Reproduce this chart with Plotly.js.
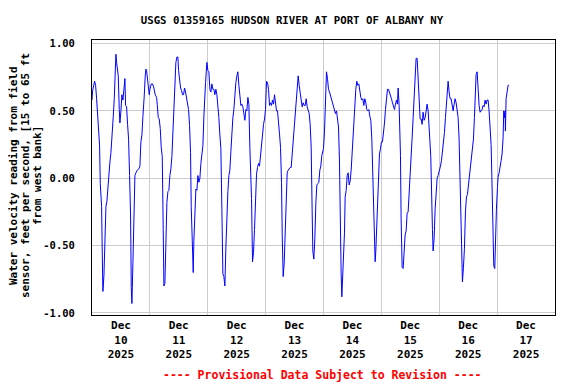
<!DOCTYPE html>
<html>
<head>
<meta charset="utf-8">
<script src="https://cdn.plot.ly/plotly-3.0.1.min.js"></script>
<style>html,body{margin:0;padding:0;background:#fff;}#chart{width:576px;height:384px;}</style>
</head>
<body>
<div id="chart"></div>
<script>
// Hours since 2025-12-10 00:00 and velocity (ft/s)
const hours = [
0.00,0.25,1.08,1.49,1.91,2.32,2.74,3.15,3.43,3.98,4.39,4.53,4.95,5.36,5.78,6.19,6.60,7.02,7.43,7.85,
8.26,8.82,9.23,9.51,9.92,10.20,10.47,10.89,11.30,11.58,11.99,12.41,12.82,13.24,13.65,13.93,14.34,14.76,15.17,15.59,
16.00,16.28,16.55,16.97,17.38,17.80,18.21,18.76,19.45,19.87,20.28,20.70,21.11,21.25,21.66,22.08,22.36,22.63,22.91,23.32,
23.74,24.01,24.57,25.12,25.67,26.22,26.78,27.05,27.47,27.88,28.30,28.71,29.13,29.54,29.82,30.23,30.65,31.06,31.48,31.89,
32.30,32.72,33.13,33.55,33.96,34.38,34.79,35.21,35.62,35.90,36.31,36.73,37.14,37.55,37.97,38.38,38.80,39.21,39.63,40.04,
40.46,40.87,41.15,41.56,41.98,42.25,42.67,43.08,43.50,43.91,44.33,44.74,45.15,45.57,45.98,46.40,46.81,
47.09,47.64,48.06,48.47,48.88,49.30,49.71,50.13,50.54,50.96,51.37,51.79,52.20,52.61,53.03,53.44,53.86,54.27,54.69,55.10,
55.52,55.93,56.35,56.76,57.17,57.59,58.00,58.42,58.83,59.25,59.66,60.08,60.49,60.91,61.32,61.73,62.15,62.56,62.98,63.39,
63.81,64.22,64.64,65.05,65.46,65.88,66.16,66.57,66.98,67.40,67.81,68.23,68.64,69.06,69.47,69.89,70.30,70.72,71.13,71.55,
71.96,72.37,72.79,73.20,73.62,74.03,74.45,74.86,75.28,75.69,76.10,76.52,76.93,77.35,77.76,78.18,78.59,78.87,79.28,79.70,
80.11,80.52,80.94,81.35,81.77,82.18,82.60,83.01,83.43,83.84,84.12,84.39,84.67,85.08,85.50,85.91,86.33,86.74,87.16,87.57,
87.99,88.40,88.82,89.23,89.64,90.06,90.47,90.89,91.30,91.58,91.99,92.41,92.82,93.24,93.65,94.07,94.48,94.89,95.31,95.72,
96.00,96.42,96.83,97.24,97.66,98.07,98.49,98.90,99.32,99.73,100.15,100.56,100.97,101.39,101.80,102.22,102.63,102.91,103.32,103.60,
104.01,104.29,104.71,104.98,105.40,105.81,106.22,106.64,107.05,107.47,107.88,108.30,108.71,108.99,109.40,109.82,110.23,110.65,111.06,111.47,
111.89,112.30,112.72,113.13,113.55,113.96,114.38,114.79,115.21,115.62,116.04,116.45,116.73,117.14,117.42,117.69,117.97,118.38,118.80,119.21,
119.63,120.04,120.46,120.87,121.29,121.70,122.11,122.53,122.94,123.36,123.77,124.19,124.60,125.02,125.43,125.85,126.26,126.67,126.95,127.36,
127.64,127.92,128.19,128.61,129.02,129.44,129.85,130.27,130.68,131.10,131.51,131.92,132.34,132.75,133.17,133.58,134.00,134.41,134.83,135.24,
135.66,136.07,136.48,136.90,137.31,137.73,138.14,138.56,138.97,139.39,139.66,140.08,140.49,140.77,141.18,141.46,141.87,142.29,142.70,143.12,143.53,
143.67,144.08,144.50,144.91,145.33,145.74,146.16,146.57,146.99,147.40,147.68,148.09,148.51,148.92,149.33,149.75,150.16,150.58,150.99,151.41,
151.82,152.23,152.65,153.06,153.34,153.62,154.03,154.45,154.86,155.28,155.69,156.10,156.52,156.93,157.35,157.76,158.18,158.59,159.01,159.28,
159.70,160.11,160.53,160.94,161.36,161.77,162.18,162.60,163.01,163.43,163.84,164.26,164.67,165.09,165.50,165.78,166.05,166.33,166.61,167.02,
167.30,167.71,168.13,168.40,168.82,169.23,169.65,170.06,170.47,170.75,171.03,171.30,171.44,171.72,172.13,172.55,172.96
];
const velocity = [
0.58,0.65,0.72,0.69,0.59,0.49,0.40,0.24,-0.04,-0.21,-0.71,-0.84,-0.72,-0.44,-0.21,-0.17,-0.05,0.07,0.12,0.19,
0.35,0.46,0.59,0.80,0.92,0.86,0.80,0.76,0.51,0.41,0.50,0.62,0.58,0.70,0.74,0.54,0.53,0.40,0.29,0.02,
-0.28,-0.81,-0.93,-0.63,-0.19,0.02,0.04,0.06,0.07,0.09,0.27,0.32,0.46,0.54,0.61,0.76,0.81,0.80,0.74,0.70,
0.62,0.66,0.70,0.70,0.67,0.62,0.60,0.55,0.45,0.44,0.37,0.23,0.16,-0.38,-0.80,-0.78,-0.40,-0.18,-0.10,-0.09,
0.02,0.07,0.16,0.32,0.48,0.69,0.86,0.90,0.90,0.80,0.72,0.67,0.65,0.62,0.62,0.67,0.64,0.59,0.56,0.51,
0.39,0.19,-0.21,-0.45,-0.70,-0.46,-0.30,-0.08,-0.09,0.02,-0.03,0.00,0.11,0.16,0.24,0.46,0.69,
0.71,0.86,0.80,0.79,0.66,0.64,0.70,0.66,0.66,0.62,0.66,0.62,0.55,0.45,0.32,0.22,-0.23,-0.71,-0.73,-0.80,
-0.51,-0.24,-0.10,0.02,0.06,0.20,0.34,0.45,0.51,0.67,0.71,0.76,0.79,0.69,0.61,0.54,0.55,0.53,0.48,0.43,
0.51,0.50,0.60,0.55,0.23,-0.02,-0.15,-0.62,-0.55,-0.38,-0.09,0.03,0.08,0.11,0.09,0.18,0.24,0.33,0.40,0.44,
0.51,0.72,0.71,0.66,0.54,0.56,0.54,0.58,0.55,0.62,0.56,0.50,0.50,0.43,0.33,0.23,-0.03,-0.41,-0.73,-0.63,
-0.41,-0.05,0.04,0.06,0.07,0.08,0.08,0.18,0.24,0.32,0.45,0.50,0.56,0.67,0.76,0.69,0.64,0.58,0.53,0.56,
0.54,0.54,0.59,0.53,0.51,0.48,0.40,0.23,-0.25,-0.54,-0.60,-0.45,-0.19,-0.05,-0.04,-0.03,0.06,0.09,0.17,0.20,
0.22,0.35,0.67,0.79,0.74,0.66,0.64,0.61,0.58,0.55,0.53,0.51,0.48,0.50,0.44,0.38,0.12,-0.44,-0.71,-0.88,
-0.71,-0.59,-0.40,-0.14,-0.09,0.02,0.04,-0.05,-0.02,0.06,0.20,0.24,0.41,0.50,0.66,0.72,0.69,0.70,0.62,0.60,
0.58,0.59,0.54,0.59,0.56,0.51,0.50,0.51,0.46,0.43,0.29,0.04,-0.17,-0.51,-0.62,-0.54,-0.40,-0.18,0.11,0.18,
0.22,0.27,0.27,0.38,0.41,0.51,0.60,0.66,0.66,0.64,0.61,0.59,0.56,0.53,0.51,0.55,0.58,0.55,0.67,0.54,
0.38,0.17,-0.30,-0.66,-0.67,-0.55,-0.42,-0.39,-0.26,-0.25,-0.13,0.06,0.13,0.30,0.45,0.61,0.80,0.89,0.89,0.71,
0.61,0.44,0.44,0.40,0.49,0.43,0.45,0.51,0.55,0.50,0.38,0.29,0.16,-0.19,-0.38,-0.54,-0.45,-0.23,-0.05,0.00,0.02,
0.03,0.04,0.09,0.13,0.19,0.27,0.34,0.45,0.59,0.67,0.72,0.64,0.59,0.59,0.54,0.50,0.55,0.59,0.56,0.50,
0.45,0.29,-0.07,-0.30,-0.71,-0.77,-0.66,-0.52,-0.25,-0.14,-0.12,-0.05,0.00,0.06,0.12,0.20,0.29,0.45,0.66,0.77,
0.79,0.60,0.54,0.49,0.50,0.51,0.54,0.53,0.58,0.55,0.58,0.58,0.50,0.37,0.25,0.04,-0.23,-0.45,-0.65,-0.67,
-0.41,-0.23,-0.07,0.01,0.04,0.11,0.13,0.18,0.30,0.50,0.45,0.50,0.35,0.59,0.66,0.69,0.69
];
const yTickVals = [-1, -0.5, 0, 0.5, 1];
const yTickText = ["-1.00", "-0.50", "0.00", "0.50", "1.00"];
const titleText = "USGS 01359165 HUDSON RIVER AT PORT OF ALBANY NY";
const yTitleLines = ["Water velocity reading from field", "sensor, feet per second, [15 to 65 ft", "from west bank]"];
const footerText = "---- Provisional Data Subject to Revision ----";

function pad(n){return (n<10?'0':'')+n;}
const base = Date.UTC(2025, 11, 10, 0, 0, 0);
const times = hours.map(h => {
  const d = new Date(base + Math.round(h*3600)*1000);
  return d.getUTCFullYear()+'-'+pad(d.getUTCMonth()+1)+'-'+pad(d.getUTCDate())+' '+pad(d.getUTCHours())+':'+pad(d.getUTCMinutes())+':'+pad(d.getUTCSeconds());
});

const F = "DejaVu Sans Mono, monospace";
const trace = {
  x: times, y: velocity, type: 'scatter', mode: 'lines',
  line: {color: '#0000FF', width: 1}, hoverinfo: 'skip'
};
const plotL = 92, plotR = 555, plotT = 40, plotB = 315;
const pw = plotR - plotL, ph = plotB - plotT;
const yAnn = yTitleLines.map((t, i) => ({
  text: t, textangle: -90, showarrow: false,
  xref: 'paper', yref: 'paper',
  x: ([13, 25, 37][i] - plotL) / pw, y: (plotB - 176) / ph,
  xanchor: 'center', yanchor: 'middle',
  font: {family: F, size: 11, color: '#000', weight: 'bold'}
}));
const layout = {
  width: 576, height: 384,
  margin: {l: plotL, r: 576 - plotR, t: plotT, b: 384 - plotB, pad: 0},
  paper_bgcolor: '#fff', plot_bgcolor: '#fff',
  showlegend: false,
  title: {
    text: titleText, xref: 'container', yref: 'container',
    x: 292/576, y: 1 - 20/384, xanchor: 'center', yanchor: 'middle',
    font: {family: F, size: 10.7, color: '#000', weight: 'bold'}
  },
  xaxis: {
    type: 'date', range: ['2025-12-10 00:00', '2025-12-18 00:00'],
    tick0: '2025-12-10', dtick: 86400000, ticklabelmode: 'period',
    tickformat: '%b<br>%d<br>%Y', ticks: '',
    showgrid: true, gridcolor: '#cccccc', gridwidth: 1,
    showline: true, mirror: true, linecolor: '#000', linewidth: 1,
    zeroline: false, fixedrange: true,
    tickfont: {family: F, size: 11, color: '#000', weight: 'bold'}
  },
  yaxis: {
    range: [-1.015, 1.026], tickmode: 'array', tickvals: yTickVals, ticktext: yTickText,
    ticks: 'outside', ticklen: 14, tickcolor: 'rgba(0,0,0,0)',
    showgrid: true, gridcolor: '#cccccc', gridwidth: 1,
    showline: true, mirror: true, linecolor: '#000', linewidth: 1,
    zeroline: false, fixedrange: true,
    tickfont: {family: F, size: 10.5, color: '#000', weight: 'bold'}
  },
  annotations: yAnn.concat([{
    text: footerText, showarrow: false, xref: 'paper', yref: 'paper',
    x: (322 - plotL) / pw, y: (plotB - 375) / ph, xanchor: 'center', yanchor: 'middle',
    font: {family: F, size: 11.5, color: '#FF0000', weight: 'bold'}
  }])
};
Plotly.newPlot('chart', [trace], layout, {staticPlot: true, displayModeBar: false});
</script>
</body>
</html>
